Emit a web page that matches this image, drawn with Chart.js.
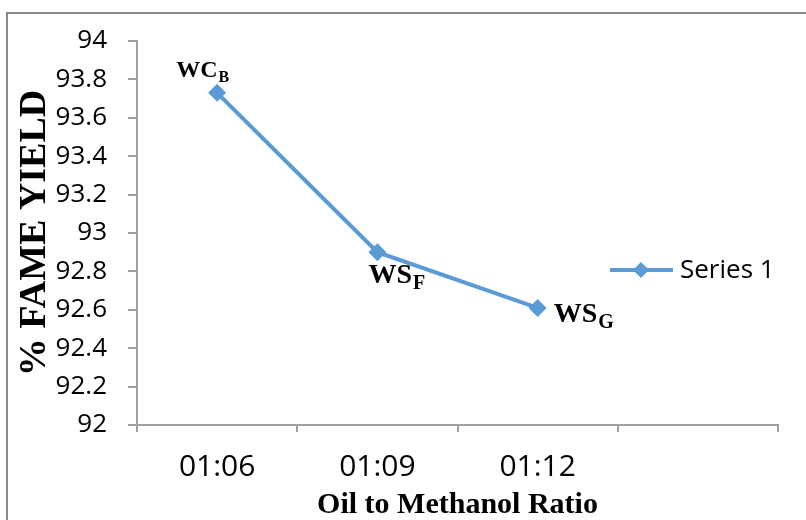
<!DOCTYPE html>
<html>
<head>
<meta charset="utf-8">
<script src="https://cdn.jsdelivr.net/npm/chart.js@4.4.1/dist/chart.umd.min.js"></script>
<style>
  html, body { margin: 0; padding: 0; background: #ffffff; }
  #wrap { width: 806px; height: 520px; position: relative; }
</style>
</head>
<body>
<div id="wrap"><canvas id="c" width="806" height="520"></canvas></div>
<script>
// ---- data ----
const categories = ['01:06', '01:09', '01:12', ''];
const fameYield = [93.73, 92.90, 92.61, null];
const seriesName = 'Series 1';
const pointNames = ['WC', 'WS', 'WS'];
const pointSubs = ['B', 'F', 'G'];
const yMin = 92;
const yMax = 94;
const yStep = 0.2;
const xTitle = 'Oil to Methanol Ratio';
const yTitle = '% FAME YIELD';

const lineColor = '#5b9bd5';
const axisColor = '#a0a0a0';

// label placement relative to each point (style only)
const labelStyle = [
  { dx: -41, dy: -16, size: 24, sub: 16, subDy: 5 },
  { dx: -9, dy: 31, size: 28, sub: 20, subDy: 6 },
  { dx: 16, dy: 14, size: 28, sub: 20, subDy: 6 }
];

const extras = {
  id: 'extras',
  beforeDraw(chart) {
    const ctx = chart.ctx;
    ctx.save();
    ctx.fillStyle = '#ffffff';
    ctx.fillRect(0, 0, chart.width, chart.height);
    ctx.strokeStyle = '#8a8a8a';
    ctx.lineWidth = 2;
    ctx.strokeRect(7, 13, chart.width + 10, chart.height + 10);
    ctx.restore();
  },
  afterDatasetsDraw(chart) {
    const ctx = chart.ctx;
    const meta = chart.getDatasetMeta(0);
    ctx.save();
    ctx.fillStyle = '#000000';
    ctx.textBaseline = 'alphabetic';
    ctx.textAlign = 'left';
    pointNames.forEach((name, i) => {
      const el = meta.data[i];
      if (!el) return;
      const st = labelStyle[i];
      const x = el.x + st.dx;
      const y = el.y + st.dy;
      ctx.font = 'bold ' + st.size + 'px "Liberation Serif", "Times New Roman", serif';
      ctx.fillText(name, x, y);
      const w = ctx.measureText(name).width;
      ctx.font = 'bold ' + st.sub + 'px "Liberation Serif", "Times New Roman", serif';
      ctx.fillText(pointSubs[i], x + w + 1, y + st.subDy);
    });
    // legend
    const ds = chart.data.datasets[0];
    const lx = 610, ly = 270;
    ctx.strokeStyle = ds.borderColor;
    ctx.lineWidth = ds.borderWidth;
    ctx.beginPath();
    ctx.moveTo(lx, ly);
    ctx.lineTo(lx + 63, ly);
    ctx.stroke();
    ctx.fillStyle = ds.backgroundColor;
    const cx = lx + 31, r = 8;
    ctx.beginPath();
    ctx.moveTo(cx, ly - r);
    ctx.lineTo(cx + r, ly);
    ctx.lineTo(cx, ly + r);
    ctx.lineTo(cx - r, ly);
    ctx.closePath();
    ctx.fill();
    ctx.fillStyle = '#000000';
    ctx.font = '26px "Open Sans", "Noto Sans", sans-serif';
    ctx.textBaseline = 'middle';
    ctx.fillText(ds.label, lx + 70, ly + 1);
    ctx.restore();
  }
};

new Chart(document.getElementById('c'), {
  type: 'line',
  data: {
    labels: categories,
    datasets: [{
      label: seriesName,
      data: fameYield,
      borderColor: lineColor,
      backgroundColor: lineColor,
      borderWidth: 4,
      pointStyle: 'rectRot',
      pointRadius: 9,
      pointBorderWidth: 0,
      tension: 0,
      clip: false
    }]
  },
  options: {
    responsive: false,
    animation: false,
    devicePixelRatio: 1,
    layout: { padding: { top: 41, right: 28, left: 0, bottom: 0 } },
    plugins: {
      legend: { display: false },
      tooltip: { enabled: false },
      title: { display: false }
    },
    scales: {
      x: {
        type: 'category',
        offset: true,
        grid: {
          offset: true,
          drawOnChartArea: false,
          drawTicks: true,
          tickLength: 7,
          color: axisColor,
          lineWidth: 2
        },
        border: { display: true, color: axisColor, width: 2 },
        ticks: {
          color: '#000000',
          font: { family: '"Open Sans", "Noto Sans", sans-serif', size: 30 },
          padding: 17,
          maxRotation: 0,
          autoSkip: false
        },
        title: {
          display: true,
          text: xTitle,
          color: '#000000',
          font: { family: '"Liberation Serif", "Times New Roman", serif', size: 30, weight: 'bold', lineHeight: 1 },
          padding: { top: 0, bottom: 0 }
        },
        afterFit(scale) { scale.height = 95; }
      },
      y: {
        min: yMin,
        max: yMax,
        grid: {
          drawOnChartArea: false,
          drawTicks: true,
          tickLength: 9,
          color: axisColor,
          lineWidth: 2
        },
        border: { display: true, color: axisColor, width: 2 },
        ticks: {
          stepSize: yStep,
          color: '#000000',
          font: { family: '"Open Sans", "Noto Sans", sans-serif', size: 26 },
          padding: 21,
          callback: (v) => String(+Number(v).toFixed(1))
        },
        title: {
          display: true,
          text: yTitle,
          color: '#000000',
          font: { family: '"Liberation Serif", "Times New Roman", serif', size: 38, weight: 'bold', lineHeight: 1 },
          padding: { top: 16, bottom: 0 }
        },
        afterFit(scale) { scale.width = 137; }
      }
    }
  },
  plugins: [extras]
});
</script>
</body>
</html>
